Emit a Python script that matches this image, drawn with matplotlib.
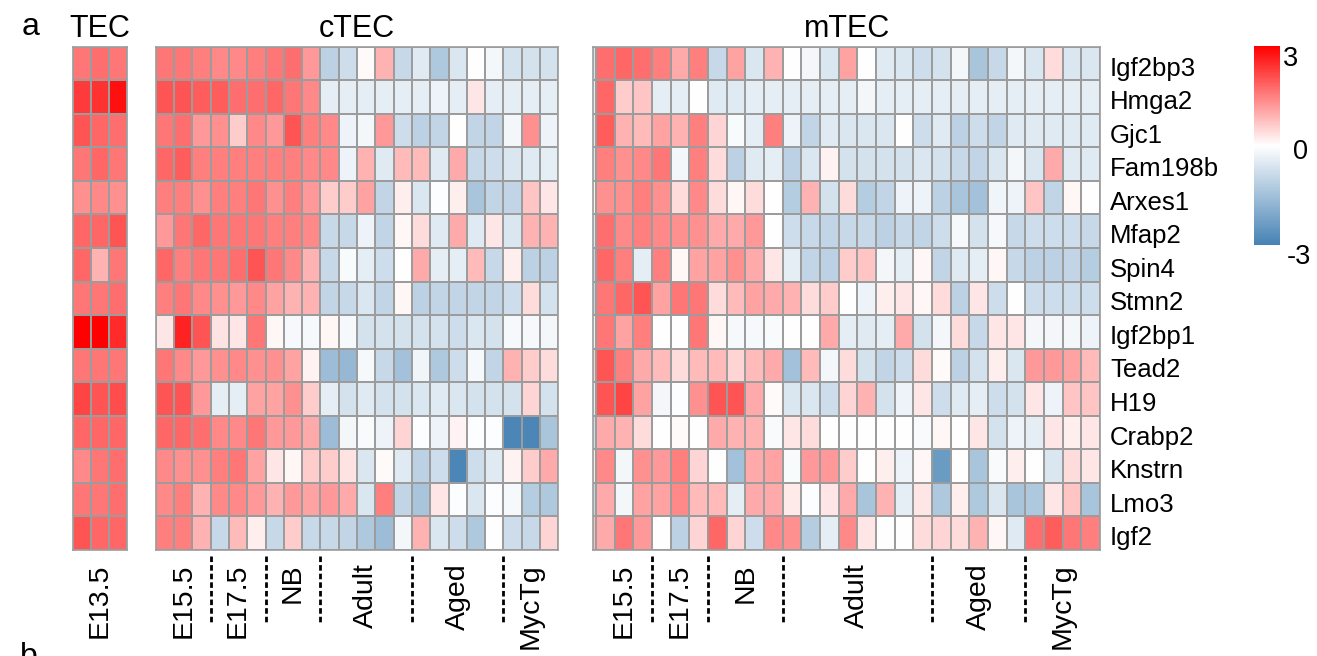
import numpy as np
import matplotlib
matplotlib.use('Agg')
import matplotlib.pyplot as plt
from matplotlib.colors import LinearSegmentedColormap
from matplotlib.transforms import blended_transform_factory

plt.rcParams['font.family'] = ['Liberation Sans', 'DejaVu Sans']

genes = ['Igf2bp3', 'Hmga2', 'Gjc1', 'Fam198b', 'Arxes1', 'Mfap2', 'Spin4', 'Stmn2',
         'Igf2bp1', 'Tead2', 'H19', 'Crabp2', 'Knstrn', 'Lmo3', 'Igf2']

tec_groups = ['E13.5']
tec_sizes = [3]
ctec_groups = ['E15.5', 'E17.5', 'NB', 'Adult', 'Aged', 'MycTg']
ctec_sizes = [3, 3, 3, 5, 5, 3]
mtec_groups = ['E15.5', 'E17.5', 'NB', 'Adult', 'Aged', 'MycTg']
mtec_sizes = [3, 3, 4, 8, 5, 4]

# scaled expression, rows = genes
tec = np.array([
    [1.6, 1.7, 1.6],
    [2.3, 2.4, 2.8],
    [2.0, 1.8, 1.7],
    [1.6, 1.8, 1.6],
    [1.3, 1.4, 1.3],
    [1.8, 1.8, 2.0],
    [1.8, 0.9, 1.6],
    [1.6, 1.6, 1.7],
    [3.0, 3.0, 2.5],
    [1.6, 1.6, 1.6],
    [2.2, 2.0, 2.1],
    [1.8, 1.8, 1.8],
    [1.4, 1.6, 1.7],
    [1.6, 1.6, 1.7],
    [2.0, 1.8, 1.8],
])

ctec = np.array([
    [1.6, 1.6, 1.5, 1.4, 1.4, 1.5, 1.6, 1.7, 1.2, -1.1, -0.8, 0.05, 0.9, -0.9, -0.5, -1.3, -0.6, 0.0, -0.2, -0.7, -0.7, -0.7],
    [2.0, 2.0, 1.9, 1.9, 1.7, 1.7, 1.8, 1.6, 1.4, -0.4, -0.4, -0.4, -0.4, -0.4, -0.4, -0.3, -0.4, 0.3, -0.4, -0.4, -0.4, -0.4],
    [1.6, 1.7, 1.2, 1.3, 0.6, 1.4, 1.2, 2.0, 1.5, 1.4, -0.3, -0.2, 1.2, -0.8, -1.1, -1.0, 0.0, -1.0, -1.0, -0.2, 1.3, -0.3],
    [1.8, 1.9, 1.5, 1.5, 1.5, 1.5, 1.5, 1.5, 1.4, 1.4, -0.3, 0.9, -0.5, 0.8, 0.8, -0.5, 1.0, -0.9, -0.8, -0.6, -0.5, -0.4],
    [1.5, 1.5, 1.3, 1.5, 1.5, 1.6, 1.3, 1.5, 1.2, 0.6, 0.6, 1.1, -1.0, 0.2, -0.6, -0.05, 0.2, -1.4, -1.0, -1.0, 0.7, 0.3],
    [1.2, 1.6, 1.8, 1.6, 1.6, 1.6, 1.5, 1.5, 1.4, -0.9, -0.9, -0.3, -1.0, 0.1, 0.4, -0.5, 1.0, -0.5, 0.3, -0.6, 0.9, 0.9],
    [1.8, 1.5, 1.6, 1.6, 1.7, 2.0, 1.6, 1.4, 0.9, -0.9, -0.1, -0.4, -0.8, 0.0, 1.0, -0.4, -0.4, 0.8, -0.9, 0.2, -1.1, -1.1],
    [1.5, 1.6, 1.4, 1.3, 1.2, 1.4, 1.1, 0.9, 0.9, -1.0, -0.9, -0.6, -1.0, 0.1, -1.1, -1.0, -1.0, -1.0, -1.0, -0.8, 0.4, -0.7],
    [0.3, 2.6, 2.0, 0.35, 0.3, 1.6, 0.1, -0.15, -0.15, 0.1, -0.15, -0.7, -0.7, -0.7, -0.7, -0.7, -0.8, -0.6, -0.7, -0.15, -0.15, -0.2],
    [1.6, 1.4, 1.2, 1.3, 1.4, 1.3, 1.3, 1.1, 0.15, -1.6, -1.7, -0.15, -0.9, -1.5, -0.25, -1.3, -0.8, -0.15, -1.0, 0.9, 0.6, 0.4],
    [2.0, 2.0, 1.2, -0.4, -0.4, 1.1, 1.1, 1.3, 0.6, -0.4, -0.7, -0.5, -0.7, -0.7, -0.6, -0.5, -0.6, -0.7, -0.7, -0.7, 0.5, -0.7],
    [1.8, 1.8, 1.7, 1.4, 1.4, 1.6, 1.2, 1.2, 1.0, -1.6, -0.2, -0.1, -0.3, 0.5, -0.05, -0.3, 0.15, -0.05, -0.05, -2.9, -2.9, -1.4],
    [1.4, 1.3, 1.3, 1.5, 1.6, 1.1, 0.3, 0.1, 0.6, 0.6, 0.35, -0.6, 0.05, -0.5, -1.1, -0.8, -2.9, -0.8, -0.5, 0.15, 0.6, 1.0],
    [1.4, 1.5, 0.9, 1.4, 1.4, 1.2, 0.9, 1.2, 1.1, 1.2, 1.0, -0.6, 1.5, -1.0, -1.4, 0.3, -0.05, -0.6, -0.05, -0.15, -1.2, -1.3],
    [1.5, 1.5, 0.9, -0.9, 0.8, 0.2, -0.9, 0.6, -0.9, -0.9, -1.0, -1.3, -1.6, -0.2, 0.9, -0.6, -0.8, -1.3, 0.0, -0.8, -0.9, 0.5],
])

# first mTEC column is only partly visible in the figure
mtec = np.array([
    [-0.7, 1.7, 1.8, 1.7, 1.5, 1.0, 1.5, -0.9, 1.1, -0.6, 0.9, 0.0, -0.2, -0.6, 1.1, 0.0, -0.5, -0.6, -0.8, -0.7, -0.2, -1.4, -0.9, -0.2, -0.6, 0.4, -0.6, -0.6],
    [-0.4, 1.8, 0.6, 0.7, -0.4, -0.4, 0.0, -0.5, -0.5, -0.4, -0.4, -0.4, -0.4, -0.4, -0.4, -0.2, -0.4, -0.4, -0.4, -0.4, -0.4, -0.4, -0.4, -0.4, -0.4, -0.4, -0.4, -0.4],
    [-0.5, 1.9, 0.9, 0.8, 1.1, 0.9, 1.5, 0.5, -0.1, -0.4, 1.5, -0.3, -1.0, -0.5, -0.6, -0.6, -0.6, 0.0, -0.8, -0.5, -1.1, -0.8, -1.0, -0.5, -0.5, -0.5, -0.5, -0.5],
    [-0.6, 1.5, 1.3, 1.4, 1.6, -0.2, 1.5, 0.4, -1.1, -0.5, -0.4, -1.1, -0.6, 0.15, -0.7, -0.7, -0.7, -0.7, -0.6, -0.7, -0.9, -1.0, -0.6, -0.2, -0.6, 1.0, -0.5, -0.5],
    [0.2, 1.3, 1.3, 1.5, 1.3, 0.4, 1.4, 0.4, 0.1, 0.4, 0.0, -1.2, 0.9, -0.7, 0.4, -1.2, -1.0, -0.3, -0.3, -1.1, -1.4, -1.5, -0.25, -0.3, 0.7, -1.0, 0.1, 0.0],
    [-0.6, 1.7, 1.4, 1.5, 1.4, 1.3, 1.3, 1.0, 1.0, 1.2, 0.0, -0.8, -0.9, -1.0, -0.9, -0.9, -1.1, -0.9, -1.0, -0.8, -0.15, -0.7, -0.15, -0.9, -0.8, -0.8, -0.8, -0.9],
    [-1.0, 1.8, 1.5, -0.4, 1.5, 0.1, 1.1, 1.1, 1.3, 1.0, 0.3, -0.4, -1.0, -1.1, 0.6, 0.7, -0.2, -0.4, 0.1, -1.0, -0.5, -0.4, 0.1, -0.9, -1.1, -1.1, -1.0, -1.2],
    [-1.0, 1.6, 1.8, 2.0, 1.1, 1.6, 1.6, 0.4, 0.8, 1.1, 1.0, 0.9, 0.4, 0.6, 0.0, -0.3, 0.2, 0.3, 0.1, 0.4, -1.1, 0.3, -0.8, 0.0, -0.8, -0.8, -0.8, -0.8],
    [-0.3, 1.6, 1.1, 1.5, 0.0, 0.0, 1.6, 0.1, -0.15, -0.15, -0.1, 0.0, 0.0, 1.0, -0.4, -0.5, -0.4, 1.0, -0.7, -0.2, 0.4, -0.9, 0.3, 0.3, -0.2, -0.2, -0.2, -0.3],
    [0.6, 2.0, 1.5, 1.0, 0.8, 0.4, 0.8, 0.8, 0.5, 0.8, 1.0, -1.5, 0.8, -0.2, 0.4, -0.7, -1.0, -0.8, 0.4, 0.05, -1.1, -0.7, 0.2, -0.6, 1.2, 1.2, 1.1, 0.8],
    [-0.5, 2.0, 2.2, 1.1, -0.2, -0.05, 1.3, 2.0, 2.0, 1.0, 0.05, -0.6, -0.6, -0.8, 0.5, 0.9, -0.7, -0.3, 0.3, -0.8, -0.5, -0.4, -0.8, -0.7, 0.3, -0.3, 0.7, 0.7],
    [-0.8, 1.0, 0.9, 0.4, 0.0, 0.05, 0.0, 1.0, 0.9, 0.9, -0.1, 0.3, 0.4, 0.0, 0.0, 0.0, 0.0, 0.0, -0.1, 0.1, 0.0, 0.3, -0.7, -0.3, -0.4, 0.3, 0.2, 0.3],
    [0.3, 1.4, -0.2, 1.3, 1.2, 1.5, 0.5, 0.0, -1.5, 1.0, 1.1, -0.1, 1.2, 1.2, 0.6, 0.0, 0.2, -0.3, 0.1, -2.4, 0.0, -1.4, -0.1, 0.2, 0.0, -0.6, 0.4, 0.3],
    [-1.0, 1.0, -0.2, 1.1, 1.1, 1.4, 0.8, 0.8, -0.4, 1.0, 1.0, 0.25, -0.05, 0.3, 1.0, -1.4, 0.9, -0.4, 0.3, -1.3, 0.2, -1.3, -0.6, -1.4, -1.3, 0.3, 0.7, -1.4],
    [0.8, 1.0, 1.6, 1.2, 0.0, -1.1, 0.5, 1.8, 0.5, -0.8, 1.4, 1.3, -1.2, -0.4, 1.4, 0.3, 0.0, 0.0, 0.4, 0.5, 0.4, 0.9, 0.1, -0.5, 1.7, 1.9, 1.6, 1.5],
])

W, H = 1317, 656
cmap = LinearSegmentedColormap.from_list('ph', ['#4682B4', '#FFFFFF', '#FF0000'])
grid = '#9c9c9c'

fig = plt.figure(figsize=(W / 100, H / 100), dpi=100)


def box(x0, y0, x1, y1):
    return [x0 / W, 1 - y1 / H, (x1 - x0) / W, (y1 - y0) / H]


top, bottom = 46.7, 550
lab_y = (bottom - 563) / (bottom - top)
sep_y0 = (bottom - 556) / (bottom - top)
sep_y1 = (bottom - 623) / (bottom - top)


def panel(x0, x1, data, sizes, names, start=0, xmin=0):
    ax = fig.add_axes(box(x0, top, x1, bottom))
    nrow, ncol = data.shape
    mesh = ax.pcolormesh(np.arange(ncol + 1), np.arange(nrow + 1), data, cmap=cmap,
                         vmin=-3, vmax=3, edgecolors=grid, linewidth=1.2)
    ax.set_xlim(xmin, ncol)
    ax.set_ylim(nrow, 0)
    ax.set_xticks([])
    ax.set_yticks([])
    for s in ax.spines.values():
        s.set_color(grid)
        s.set_linewidth(1.2)
    edges = start + np.concatenate([[0], np.cumsum(sizes)])
    tr = ax.get_xaxis_transform()
    for name, a, b in zip(names, edges[:-1], edges[1:]):
        ax.text((a + b) / 2, lab_y, name, transform=tr, rotation=90, ha='center',
                va='top', fontsize=20.5)
    for e in edges[1:-1]:
        ax.plot([e, e], [sep_y0, sep_y1], transform=tr, clip_on=False, color='black',
                lw=2, ls=(0, (2, 1.1)))
    return ax, mesh


ax_t, _ = panel(72.5, 127.4, tec, tec_sizes, tec_groups)
ax_c, _ = panel(155.7, 558.3, ctec, ctec_sizes, ctec_groups)
ax_m, mesh = panel(593.3, 1100, mtec, mtec_sizes, mtec_groups, start=1, xmin=0.86)

gtr = blended_transform_factory(ax_m.transAxes, ax_m.transData)
for i, g in enumerate(genes):
    ax_m.text(1.0197, i + 0.65, g, transform=gtr, ha='left', va='center', fontsize=18.5)

fig.text(100 / W, 1 - 29 / H, 'TEC', ha='center', va='center', fontsize=22)
fig.text(357 / W, 1 - 29 / H, 'cTEC', ha='center', va='center', fontsize=22)
fig.text(847 / W, 1 - 29 / H, 'mTEC', ha='center', va='center', fontsize=22)
fig.text(22 / W, 1 - 27 / H, 'a', ha='left', va='center', fontsize=23)
fig.text(20 / W, 1 - 642 / H, 'b', ha='left', va='top', fontsize=23)

cax = fig.add_axes(box(1254, 46, 1280, 245))
cb = fig.colorbar(mesh, cax=cax)
cb.set_ticks([])
cb.outline.set_visible(False)
cax.text(1.12, 1.0, '3', transform=cax.transAxes, ha='left', va='top', fontsize=19.5)
cax.text(1.5, 0.467, '0', transform=cax.transAxes, ha='left', va='center', fontsize=19.5)
cax.text(1.27, -0.06, '-3', transform=cax.transAxes, ha='left', va='center', fontsize=19.5)

fig.savefig('out.png', dpi=100)
